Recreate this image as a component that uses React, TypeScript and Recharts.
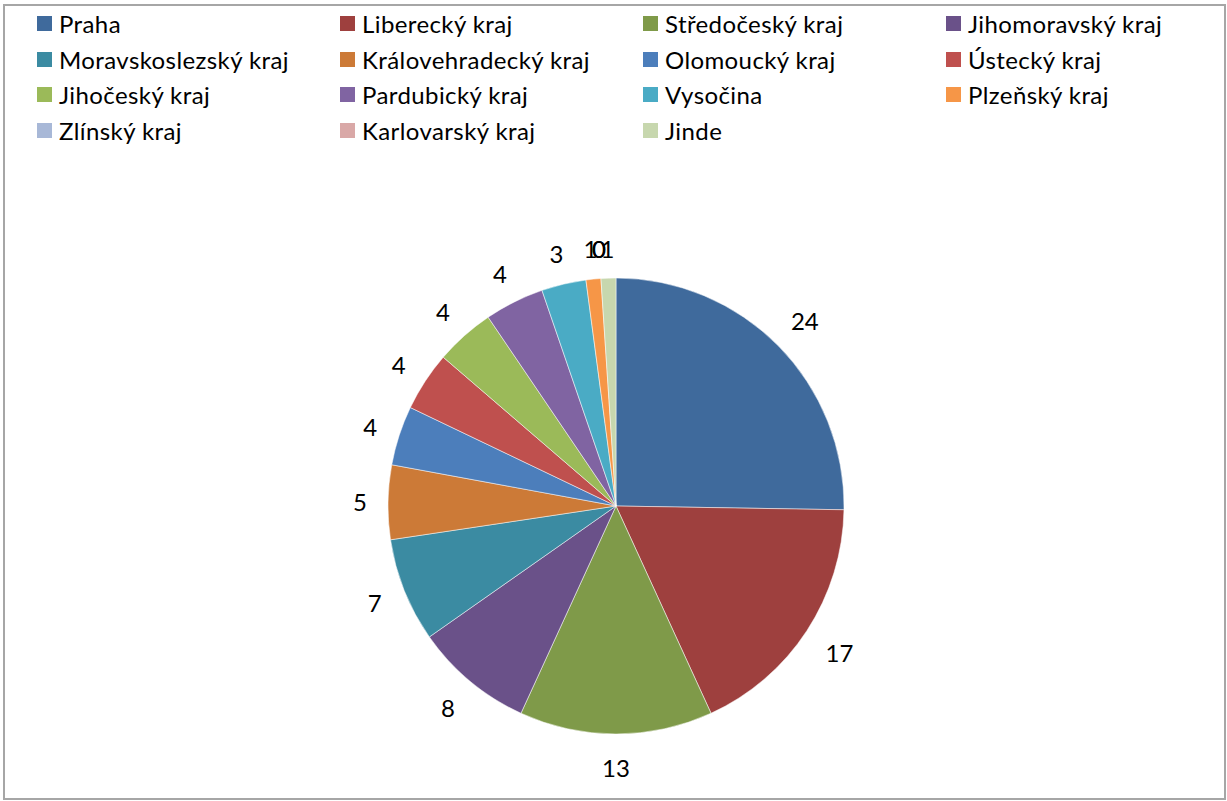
import React from 'react';
import { PieChart, Pie, Cell, Legend } from 'recharts';

const regions = [
  'Praha', 'Liberecký kraj', 'Středočeský kraj', 'Jihomoravský kraj',
  'Moravskoslezský kraj', 'Královehradecký kraj', 'Olomoucký kraj', 'Ústecký kraj',
  'Jihočeský kraj', 'Pardubický kraj', 'Vysočina', 'Plzeňský kraj',
  'Zlínský kraj', 'Karlovarský kraj', 'Jinde',
];
const counts = [24, 17, 13, 8, 7, 5, 4, 4, 4, 4, 3, 1, 0, 0, 1];
const colors = [
  '#3F6A9C', '#9E403E', '#7F9A49', '#6A5189', '#3B8BA2', '#CC7A37', '#4C7EBB', '#BF504E',
  '#9BBA59', '#8064A2', '#4AABC5', '#F69647', '#A8B8D7', '#D9A8A7', '#C7D7AE',
];

const data = regions.map((name, i) => ({ name, value: counts[i] }));

const FONT = 'Lato, "Open Sans", sans-serif';
const RAD = Math.PI / 180;

const renderLabel = (props: any) => {
  const { cx, cy, midAngle, outerRadius, value } = props;
  const ux = Math.cos(-midAngle * RAD);
  const uy = Math.sin(-midAngle * RAD);
  const text = String(value);
  const w = text.length * 13.5;
  const h = uy < 0 ? 17 : 23.4;
  const dist = outerRadius + 21.3 + Math.abs(ux) * w / 2 + Math.abs(uy) * h / 2;
  const x = cx + ux * dist;
  const y = cy + uy * dist;
  return (
    <text x={x} y={y} textAnchor="middle" dominantBaseline="central" fontFamily={FONT} fontSize={24} fill="#000">
      {text}
    </text>
  );
};

const colX = [37, 340, 643, 946];
const rowY = [23.5, 59, 94.5, 130];

const renderLegend = () => (
  <div style={{ position: 'relative', width: 1227, height: 150 }}>
    {regions.map((name, i) => {
      const col = i % 4;
      const row = Math.floor(i / 4);
      return (
        <div
          key={name}
          style={{
            position: 'absolute',
            left: colX[col],
            top: rowY[row] - 15,
            height: 30,
            display: 'flex',
            alignItems: 'center',
            whiteSpace: 'nowrap',
            fontFamily: FONT,
            fontSize: 24,
            letterSpacing: 0.4,
            color: '#000',
          }}
        >
          <span style={{ display: 'inline-block', width: 15, height: 15, background: colors[i], marginRight: 7 }} />
          <span>{name}</span>
        </div>
      );
    })}
  </div>
);

export default function App() {
  return (
    <div style={{ position: 'absolute', left: 0, top: 0, width: 1227, height: 801, background: '#fff' }}>
      <div
        style={{
          position: 'absolute',
          left: 3,
          top: 4,
          width: 1223,
          height: 796,
          border: '2px solid #A6A6A6',
          boxSizing: 'border-box',
        }}
      />
      <div style={{ position: 'absolute', left: 0, top: 0 }}>
        <PieChart width={1227} height={801} margin={{ top: 0, right: 0, bottom: 0, left: 0 }}>
          <Legend
            layout="horizontal"
            verticalAlign="middle"
            align="center"
            content={renderLegend}
            wrapperStyle={{ position: 'absolute', left: 0, top: 0, width: 1227, height: 150 }}
          />
          <Pie
            data={data}
            dataKey="value"
            nameKey="name"
            cx={616}
            cy={506}
            outerRadius={228}
            startAngle={90}
            endAngle={-270}
            stroke="#ffffff"
            strokeWidth={0.5}
            label={renderLabel}
            labelLine={false}
            isAnimationActive={false}
          >
            {data.map((d, i) => (
              <Cell key={d.name} fill={colors[i]} />
            ))}
          </Pie>
        </PieChart>
      </div>
    </div>
  );
}
